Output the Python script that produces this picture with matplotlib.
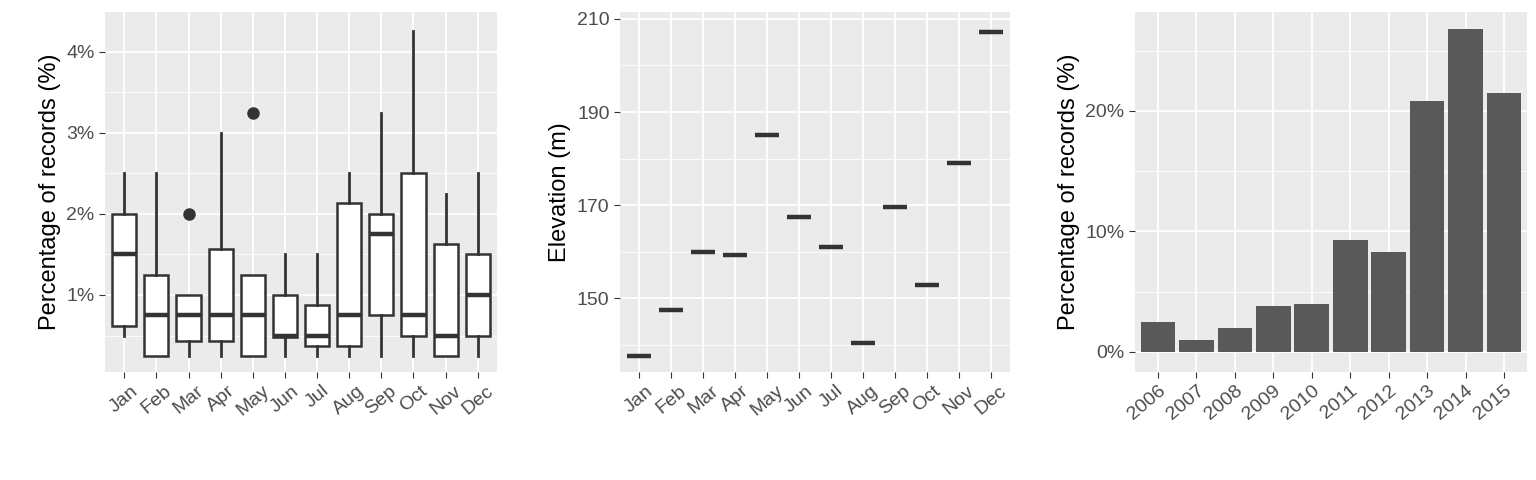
import numpy as np
import matplotlib.pyplot as plt
from matplotlib.ticker import FuncFormatter, MultipleLocator

plt.rcParams['font.family'] = ['Liberation Sans', 'DejaVu Sans']

months = ['Jan', 'Feb', 'Mar', 'Apr', 'May', 'Jun', 'Jul', 'Aug', 'Sep', 'Oct', 'Nov', 'Dec']
# percentage of records per month: whislo, q1, med, q3, whishi, outliers
pct_whislo = [0.5, 0.25, 0.25, 0.25, 0.25, 0.25, 0.25, 0.25, 0.25, 0.25, 0.25, 0.25]
pct_q1 = [0.62, 0.25, 0.43, 0.43, 0.25, 0.48, 0.37, 0.37, 0.75, 0.5, 0.25, 0.5]
pct_med = [1.5, 0.75, 0.75, 0.75, 0.75, 0.5, 0.5, 0.75, 1.75, 0.75, 0.5, 1.0]
pct_q3 = [2.0, 1.25, 1.0, 1.57, 1.25, 1.0, 0.88, 2.13, 2.0, 2.5, 1.63, 1.5]
pct_whishi = [2.5, 2.5, 1.0, 3.0, 1.25, 1.5, 1.5, 2.5, 3.25, 4.25, 2.25, 2.5]
pct_fliers = [[], [], [2.0], [], [3.25], [], [], [], [], [], [], []]

elevation = [137.5, 147.5, 160, 159.3, 185, 167.5, 161, 140.3, 169.5, 152.8, 179, 207.3]

years = ['2006', '2007', '2008', '2009', '2010', '2011', '2012', '2013', '2014', '2015']
year_pct = [2.5, 1.0, 2.0, 3.8, 4.0, 9.3, 8.3, 20.8, 26.8, 21.5]

dark = '#333333'
fig = plt.figure(figsize=(15.36, 4.8), dpi=100)
ax1 = fig.add_axes([105/1536, 108/480, 392/1536, 360/480])
ax2 = fig.add_axes([620/1536, 108/480, 390/1536, 360/480])
ax3 = fig.add_axes([1135/1536, 108/480, 392/1536, 360/480])

def theme(ax):
    ax.set_facecolor('#EBEBEB')
    for s in ax.spines.values():
        s.set_visible(False)
    ax.grid(True, which='major', color='white', lw=1.3)
    ax.grid(True, which='minor', color='white', lw=0.6)
    ax.set_axisbelow(True)
    ax.tick_params(which='major', colors='#333333', labelcolor='#4D4D4D', labelsize=14, length=4)
    ax.tick_params(which='minor', length=0)
    ax.tick_params(axis='x', which='minor', bottom=False)

mprops = dict(color=dark, lw=3.2)
bprops = dict(color=dark, lw=2)

stats = []
for i in range(12):
    stats.append(dict(whislo=pct_whislo[i], q1=pct_q1[i], med=pct_med[i], q3=pct_q3[i],
                      whishi=pct_whishi[i], fliers=pct_fliers[i]))
ax1.bxp(stats, positions=range(12), widths=0.75, showcaps=False, patch_artist=True,
        boxprops=dict(facecolor='white', edgecolor=dark, lw=1.8), medianprops=mprops,
        whiskerprops=bprops,
        flierprops=dict(marker='o', markerfacecolor=dark, markeredgecolor=dark, markersize=8))
ax1.set_xlim(-0.6, 11.6)
ax1.set_ylim(0.05, 4.49)
ax1.set_yticks([1, 2, 3, 4])
ax1.yaxis.set_minor_locator(MultipleLocator(0.5))
ax1.yaxis.set_major_formatter(FuncFormatter(lambda v, p: f'{v:.0f}%'))
ax1.set_ylabel('Percentage of records (%)', fontsize=17)

stats2 = [dict(whislo=v, q1=v, med=v, q3=v, whishi=v, fliers=[]) for v in elevation]
ax2.bxp(stats2, positions=range(12), widths=0.75, showcaps=False, patch_artist=True,
        boxprops=dict(facecolor='white', edgecolor=dark, lw=1.5), medianprops=mprops,
        whiskerprops=bprops)
ax2.set_xlim(-0.6, 11.6)
ax2.set_ylim(134.1, 211.5)
ax2.set_yticks([150, 170, 190, 210])
ax2.yaxis.set_minor_locator(MultipleLocator(10))
ax2.set_ylabel('Elevation (m)', fontsize=17)

for ax in (ax1, ax2):
    ax.set_xticks(range(12))
    ax.set_xticklabels(months, rotation=40, ha='center')

ax3.bar(range(len(years)), year_pct, width=0.9, color='#595959')
ax3.set_xlim(-0.6, 9.6)
ax3.set_ylim(-1.66, 28.2)
ax3.set_yticks([0, 10, 20])
ax3.yaxis.set_minor_locator(MultipleLocator(5))
ax3.yaxis.set_major_formatter(FuncFormatter(lambda v, p: f'{v:.0f}%'))
ax3.set_xticks(range(len(years)))
ax3.set_xticklabels(years, rotation=40, ha='right', rotation_mode='anchor')
ax3.set_ylabel('Percentage of records (%)', fontsize=17)

for ax in (ax1, ax2, ax3):
    theme(ax)

fig.savefig('out.png', dpi=100)
